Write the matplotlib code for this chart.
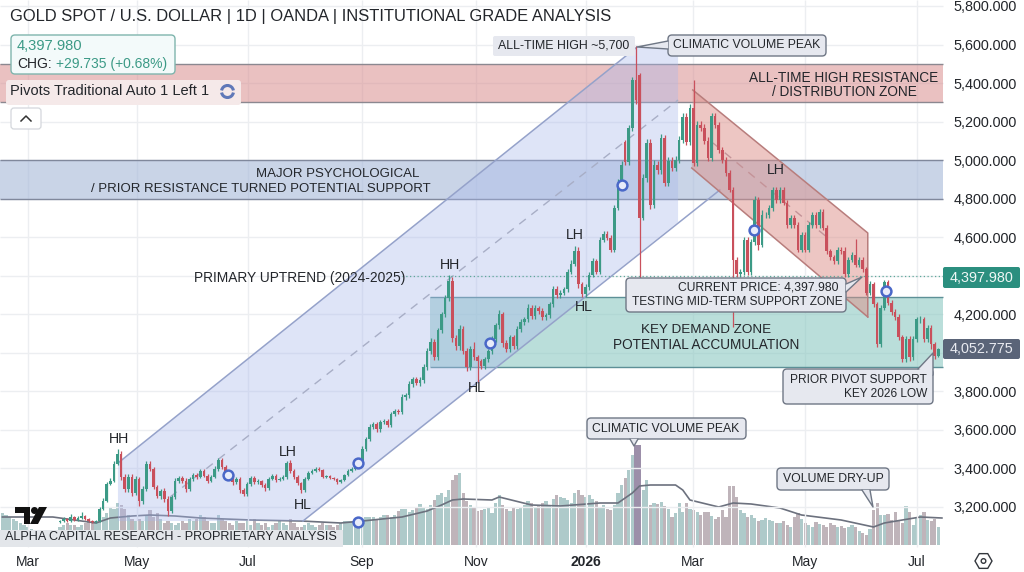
import matplotlib

matplotlib.use("Agg")
import matplotlib.pyplot as plt
import numpy as np
from matplotlib.patches import Arc, Circle, FancyBboxPatch, Polygon, Rectangle, RegularPolygon

plt.rcParams["font.family"] = ["Liberation Sans", "DejaVu Sans"]

# daily closes, first candle sits on bar 16 (price pane starts there)
closes = [
    3127, 3137, 3127, 3148, 3132, 3142, 3153, 3137, 3127, 3122,
    3127, 3189, 3231, 3319, 3334, 3422, 3474, 3355, 3293, 3355,
    3272, 3345, 3231, 3293, 3422, 3396, 3303, 3257, 3282, 3241,
    3179, 3251, 3334, 3350, 3334, 3293, 3345, 3365, 3355, 3386,
    3360, 3334, 3355, 3396, 3443, 3407, 3381, 3355, 3329, 3345,
    3288, 3267, 3319, 3350, 3329, 3334, 3313, 3298, 3345, 3360,
    3339, 3345, 3355, 3427, 3386, 3355, 3324, 3288, 3345, 3376,
    3386, 3396, 3391, 3355, 3360, 3350, 3345, 3329, 3339, 3365,
    3386, 3396, 3422, 3438, 3500, 3552, 3614, 3630, 3604, 3640,
    3645, 3625, 3681, 3697, 3692, 3769, 3780, 3837, 3863, 3842,
    3860, 3925, 4008, 4055, 3977, 4116, 4199, 4287, 4375, 4075,
    4034, 4122, 4008, 3925, 4018, 3977, 3956, 3930, 3966, 4008,
    4070, 4142, 4199, 4049, 4018, 4080, 4034, 4122, 4158, 4173,
    4235, 4189, 4230, 4215, 4184, 4194, 4251, 4329, 4298, 4313,
    4329, 4422, 4463, 4526, 4355, 4303, 4339, 4406, 4474, 4422,
    4588, 4619, 4598, 4536, 4754, 4883, 4976, 4992, 5168, 5417,
    5313, 4702, 4909, 5090, 4769, 4976, 4950, 5116, 4883, 4998,
    4961, 5002, 5106, 5225, 5095, 5272, 4987, 5184, 5168, 5100,
    5013, 5230, 5184, 5054, 5002, 4935, 4847, 4484, 4407, 4422,
    4588, 4422, 4577, 4795, 4562, 4717, 4717, 4753, 4847, 4795,
    4847, 4780, 4665, 4702, 4665, 4536, 4614, 4536, 4665, 4717,
    4665, 4733, 4650, 4526, 4495, 4474, 4536, 4526, 4407, 4484,
    4510, 4458, 4484, 4433, 4313, 4355, 4251, 4044, 4235, 4365,
    4261, 4210, 4184, 4080, 3966, 4070, 3977, 4070, 4173, 4173,
    4070, 4127, 4044, 3985, 4020,
]
open_gaps = {0: 3120, 157: 5095, 161: 5443}

upper_wicks = [
    5, 10, 5, 15, 5, 10, 20, 5, 5, 5,
    5, 10, 15, 10, 15, 15, 25, 15, 15, 15,
    15, 15, 10, 15, 15, 15, 10, 10, 10, 15,
    15, 10, 15, 10, 10, 15, 10, 10, 10, 10,
    10, 10, 10, 15, 10, 10, 10, 5, 15, 10,
    10, 10, 10, 10, 10, 10, 5, 10, 10, 10,
    10, 10, 10, 10, 15, 10, 10, 5, 10, 10,
    10, 10, 10, 5, 5, 5, 5, 5, 5, 5,
    10, 10, 10, 10, 15, 10, 15, 10, 10, 10,
    10, 10, 10, 10, 10, 15, 10, 15, 10, 10,
    15, 15, 15, 20, 15, 15, 15, 15, 30, 20,
    15, 20, 15, 15, 15, 40, 10, 10, 10, 10,
    15, 15, 25, 15, 15, 15, 15, 15, 15, 15,
    20, 15, 20, 15, 15, 15, 15, 20, 20, 15,
    15, 15, 20, 30, 25, 10, 20, 15, 20, 15,
    15, 15, 15, 15, 15, 20, 20, 10, 15, 15,
    173, 10, 20, 20, 20, 25, 20, 20, 15, 20,
    20, 20, 20, 20, 20, 20, 145, 20, 20, 20,
    20, 15, 15, 15, 15, 15, 15, 15, 15, 15,
    15, 15, 15, 20, 15, 25, 15, 15, 15, 15,
    15, 15, 15, 15, 15, 15, 15, 15, 15, 15,
    15, 15, 15, 15, 15, 15, 15, 15, 25, 15,
    15, 80, 15, 15, 10, 20, 15, 15, 15, 15,
    15, 15, 15, 15, 15, 15, 15, 15, 15, 20,
    15, 15, 15, 10, 5,
]
lower_wicks = [
    5, 5, 5, 5, 5, 5, 5, 5, 5, 5,
    5, 5, 5, 5, 5, 5, 5, 15, 15, 15,
    15, 10, 25, 15, 10, 10, 10, 10, 15, 15,
    25, 10, 10, 10, 10, 15, 10, 10, 10, 5,
    5, 10, 5, 5, 10, 10, 10, 10, 15, 10,
    15, 10, 10, 10, 10, 10, 10, 15, 10, 5,
    10, 5, 5, 10, 10, 10, 10, 15, 10, 5,
    5, 5, 5, 5, 5, 5, 5, 10, 5, 5,
    5, 5, 5, 5, 10, 10, 10, 10, 15, 15,
    10, 10, 10, 10, 10, 10, 15, 15, 15, 10,
    15, 15, 15, 15, 15, 15, 15, 15, 20, 20,
    20, 20, 15, 20, 15, 15, 107, 15, 15, 15,
    15, 15, 20, 20, 15, 15, 15, 15, 15, 15,
    15, 15, 15, 15, 15, 15, 15, 15, 15, 15,
    15, 15, 15, 15, 20, 15, 15, 15, 15, 15,
    15, 15, 15, 15, 15, 15, 15, 15, 15, 15,
    20, 420, 15, 20, 25, 20, 20, 20, 15, 15,
    15, 15, 15, 15, 15, 15, 15, 15, 15, 15,
    15, 15, 15, 15, 15, 15, 15, 350, 15, 15,
    20, 20, 20, 15, 30, 15, 15, 15, 15, 15,
    15, 15, 15, 15, 15, 15, 15, 15, 15, 15,
    15, 15, 15, 15, 15, 15, 15, 15, 15, 15,
    15, 15, 15, 15, 15, 15, 15, 15, 15, 15,
    15, 15, 15, 15, 15, 15, 20, 15, 15, 20,
    15, 15, 25, 15, 5,
]

volumes = [
    32, 30, 28, 26, 24, 22, 20, 18, 16, 15,
    14, 14, 15, 14, 13, 12, 18, 20, 22, 20,
    20, 18, 20, 22, 24, 22, 24, 24, 28, 32,
    38, 36, 42, 40, 36, 30, 26, 24, 26, 24,
    30, 35, 28, 32, 26, 22, 24, 22, 20, 22,
    24, 22, 26, 24, 26, 30, 28, 24, 22, 22,
    30, 26, 24, 22, 20, 24, 22, 22, 24, 20,
    26, 22, 20, 22, 18, 20, 22, 24, 22, 20,
    26, 22, 18, 18, 20, 22, 20, 18, 20, 22,
    20, 20, 18, 20, 22, 24, 24, 24, 26, 26,
    25, 28, 28, 28, 26, 28, 30, 30, 28, 30,
    34, 36, 36, 33, 35, 38, 41, 38, 36, 40,
    45, 50, 52, 48, 55, 65, 70, 72, 52, 44,
    40, 38, 34, 35, 36, 37, 32, 42, 50, 40,
    36, 34, 38, 36, 38, 40, 44, 42, 38, 40,
    42, 44, 40, 46, 50, 48, 47, 45, 42, 52,
    55, 50, 48, 50, 46, 44, 38, 40, 36, 35,
    40, 52, 60, 67, 75, 90, 100, 100, 55, 65,
    40, 42, 41, 43, 39, 36, 28, 32, 42, 33,
    42, 36, 35, 33, 30, 33, 33, 29, 26, 28,
    35, 28, 59, 59, 48, 35, 32, 28, 30, 27,
    24, 25, 27, 25, 24, 22, 22, 24, 20, 18,
    28, 32, 26, 22, 20, 18, 23, 21, 20, 18,
    22, 20, 18, 19, 17, 18, 20, 18, 14, 12,
    10, 16, 35, 42, 30, 30, 31, 25, 33, 25,
    22, 39, 33, 20, 28, 30, 33, 25, 24, 26,
    18,
]
peak_volume_bars = [176, 177]

vol_ma_bars = [
    0, 14, 26, 30, 36, 41, 48, 55, 69, 83, 94, 100, 111, 118, 122, 125, 128,
    136, 138, 147, 155, 166, 171, 173, 175, 177, 180, 187, 189, 191, 199, 203,
    208, 216, 222, 233, 242, 245, 255, 261,
]
vol_ma = [
    28, 28, 22, 27, 29, 30, 29, 27, 25, 24, 22, 24, 28, 34, 40, 45, 46,
    45, 48, 40, 39, 42, 42, 47, 52, 59, 60, 60, 55, 45, 38, 42,
    41, 37, 30, 25, 18, 22, 28, 27,
]

price_ticks = [5800, 5600, 5400, 5200, 5000, 4800, 4600, 4400, 4200, 4000, 3800, 3600, 3400, 3200]
hidden_price_ticks = [4400, 4000]
month_bars = [7.1, 37.4, 68.2, 99.9, 131.6, 162.1, 191.8, 223, 254]
month_labels = ["Mar", "May", "Jul", "Sep", "Nov", "2026", "Mar", "May", "Jul"]

resistance_zone = (5300, 5500)
psych_zone = (4800, 5000)
demand_zone = (3925, 4290)
last_price = 4397.98

up_channel_bars = [32.1, 176.3, 187.7, 187.7, 83.5, 32.1]
up_channel_prices = [3428, 5587, 5587, 4679, 3127, 3127]
up_top_bars, up_top_prices = [32.1, 176.3], [3428, 5587]
up_low_bars, up_low_prices = [83.5, 199.3], [3127, 4845]
up_mid_bars, up_mid_prices = [46.6, 187.7], [3252, 5312]

down_channel_bars = [191.8, 240.4, 240.4, 191.5]
down_channel_prices = [5364, 4622, 4186, 4959]
down_mid_bars, down_mid_prices = [197.4, 229], [5089, 4601]

ring_bars = [62.7, 98.8, 98.8, 135.4, 172.1, 208.8, 245.4]
ring_prices = [3366, 3428, 3122, 4051, 4871, 4637, 4321]

swing_bars = [32.4, 79.3, 83.5, 124.3, 131.8, 159.1, 161.6, 214.9]
swing_prices = [3555, 3487, 3212, 4455, 3815, 4610, 4236, 4950]
swing_labels = ["HH", "LH", "HL", "HH", "HL", "LH", "HL", "LH"]

UP = "#3c9a86"
DOWN = "#c9505c"
VOL_UP = "#aecaca"
VOL_DOWN = "#bfb4ba"
TEXT = "#23262b"
BOX = "#e6e8ef"
BOX_EDGE = "#6f7785"
GRID = "#eceef1"
RING = "#4a68c8"


def callout(ui, x0, y0, x1, y1, tail=None):
    ui.add_patch(FancyBboxPatch((x0 + 3, y0 + 3), x1 - x0 - 6, y1 - y0 - 6,
                                boxstyle="round,pad=3,rounding_size=4",
                                fc=BOX, ec=BOX_EDGE, lw=1.0, zorder=5))
    if tail:
        ui.add_patch(Polygon(tail, closed=True, fc=BOX, ec="none", zorder=6))
        xs, ys = zip(*tail)
        ui.plot(xs, ys, color=BOX_EDGE, lw=1.0, zorder=6, solid_capstyle="round")


def label(ui, x, y, s, size=9.8, ha="center", color=TEXT, **kw):
    ui.text(x, y, s, fontsize=size, ha=ha, va="center", color=color, zorder=7, **kw)


def main():
    fig = plt.figure(figsize=(10.24, 5.72), dpi=100, facecolor="white")

    # px to data: 3.6 px per bar, 5.19 price per px
    x_lim = (-0.667, 283.8)
    vol_ax = fig.add_axes([0, 0, 1, 1], zorder=0)
    ax = fig.add_axes([0, 0, 1, 1], zorder=1)
    ui = fig.add_axes([0, 0, 1, 1], zorder=2)
    ax.patch.set_visible(False)
    ui.patch.set_visible(False)

    ax.set_xlim(*x_lim)
    ax.set_ylim(2862.5, 5831)
    vol_ax.set_xlim(*x_lim)
    vol_ax.set_ylim(-27, 545)
    vol_ax.axis("off")
    ui.set_xlim(0, 1024)
    ui.set_ylim(572, 0)
    ui.axis("off")

    for side in ax.spines.values():
        side.set_visible(False)

    axis_end = 261.3
    ax.hlines(price_ticks, x_lim[0], axis_end, color=GRID, lw=1.0, zorder=0)
    ax.vlines(month_bars, 2990, 5831, color=GRID, lw=1.0, zorder=0)

    # volume pane
    closes_arr = np.array(closes, dtype=float)
    opens = np.r_[closes_arr[0], closes_arr[:-1]]
    for i, v in open_gaps.items():
        opens[i] = v
    first_bar = 16
    vol_colors = []
    for b in range(len(volumes)):
        i = b - first_bar
        if b in peak_volume_bars:
            vol_colors.append("#9c8fa9")
        elif i < 0 or i >= len(closes) or closes_arr[i] >= opens[i]:
            vol_colors.append(VOL_UP)
        else:
            vol_colors.append(VOL_DOWN)
    vol_ax.bar(np.arange(len(volumes)), volumes, width=0.88, color=vol_colors, zorder=2)
    vol_ax.plot(vol_ma_bars, vol_ma, color="#6c717e", lw=1.2, zorder=3)

    # zones
    ax.fill_between([x_lim[0], axis_end], *resistance_zone, color="#d98f8f", alpha=0.55, lw=0, zorder=1)
    ax.hlines(resistance_zone, x_lim[0], axis_end, color="#8b8890", lw=1.0, zorder=1)
    ax.fill_between([x_lim[0], axis_end], *psych_zone, color="#a5b8d8", alpha=0.6, lw=0, zorder=1)
    ax.hlines(psych_zone, x_lim[0], axis_end, color="#80889c", lw=1.0, zorder=1)
    ax.fill_between([118.8, axis_end], *demand_zone, color="#8cc9c2", alpha=0.6, lw=0, zorder=1)
    ax.hlines(demand_zone, 118.8, axis_end, color="#5d9097", lw=1.0, zorder=1)

    # channels
    ax.fill(up_channel_bars, up_channel_prices, color="#a9b8ec", alpha=0.38, lw=0, zorder=2)
    ax.plot(up_top_bars, up_top_prices, color="#95a2ca", lw=1.1, zorder=2)
    ax.plot(up_low_bars, up_low_prices, color="#95a2ca", lw=1.1, zorder=2)
    ax.plot(up_mid_bars, up_mid_prices, color="#a8aec6", lw=1.0, ls=(0, (6, 5)), zorder=2)
    ax.fill(down_channel_bars, down_channel_prices, color="#dc8f88", alpha=0.5, lw=0, zorder=2)
    ax.plot(down_channel_bars[:3], down_channel_prices[:3], color="#b87d7c", lw=1.1, zorder=2)
    ax.plot(down_channel_bars[2:], down_channel_prices[2:], color="#b87d7c", lw=1.1, zorder=2)
    ax.plot(down_mid_bars, down_mid_prices, color="#c49398", lw=1.0, ls=(0, (6, 5)), zorder=2)

    ax.hlines(last_price, 111, axis_end, color="#5fa89a", lw=0.9, ls=(0, (1, 2)), zorder=2)

    # candles
    bars = first_bar + np.arange(len(closes))
    body_low = np.minimum(opens, closes_arr)
    body_high = np.maximum(opens, closes_arr)
    colors = [UP if c >= o else DOWN for o, c in zip(opens, closes_arr)]
    highs = body_high + np.array(upper_wicks)
    lows = body_low - np.array(lower_wicks)
    ax.vlines(bars, lows, highs, color=colors, lw=0.9, zorder=3)
    ax.bar(bars, body_high - body_low, bottom=body_low, width=0.72, color=colors, lw=0, zorder=3)

    ax.scatter(ring_bars, ring_prices, s=50, facecolor="#e8ecfa", edgecolor=RING, linewidth=1.8, zorder=4)

    for b, p, s in zip(swing_bars, swing_prices, swing_labels):
        ax.text(b, p, s, fontsize=10.2, ha="center", va="center", color=TEXT, zorder=4)

    # axes labels live inside the full-figure axes
    ax.set_yticks(price_ticks)
    ax.set_yticklabels(["" if p in hidden_price_ticks else f"{p:,.3f}" for p in price_ticks])
    ax.yaxis.tick_right()
    ax.tick_params(axis="y", length=0, pad=-5, labelsize=10.4, labelcolor=TEXT)
    for t in ax.get_yticklabels():
        t.set_ha("right")
    ax.set_xticks(month_bars)
    ax.set_xticklabels(month_labels)
    ax.tick_params(axis="x", length=0, pad=-12.5, labelsize=10.0, labelcolor=TEXT)
    for t in ax.get_xticklabels():
        if t.get_text() == "2026":
            t.set_fontweight("bold")

    # banner and logo
    ui.add_patch(Rectangle((0, 530), 343, 17, fc="#e3e6ea", ec="none", zorder=3))
    label(ui, 5, 537.5, "ALPHA CAPITAL RESEARCH - PROPRIETARY ANALYSIS", size=9.05, ha="left")
    ui.add_patch(Rectangle((15, 507), 15, 6, fc="#111111", ec="none", zorder=4))
    ui.add_patch(Rectangle((24, 507), 6, 17, fc="#111111", ec="none", zorder=4))
    ui.add_patch(Circle((34.5, 510.5), 3.5, fc="#111111", ec="none", zorder=4))
    ui.add_patch(Polygon([(39, 507), (47, 507), (38, 524), (30, 524)], fc="#111111", ec="none", zorder=4))

    # header
    label(ui, 10, 17, "GOLD SPOT / U.S. DOLLAR | 1D | OANDA | INSTITUTIONAL GRADE ANALYSIS", size=11.85, ha="left")
    ui.add_patch(FancyBboxPatch((14, 38), 158, 33, boxstyle="round,pad=3,rounding_size=4",
                                fc="#f3fafa", ec="#7fb5ad", lw=1.0, zorder=5))
    label(ui, 17, 46, "4,397.980", size=10.6, ha="left", color=UP)
    label(ui, 17, 64, "CHG:", size=10, ha="left")
    label(ui, 56, 64, "+29.735 (+0.68%)", size=10, ha="left", color=UP)
    ui.add_patch(FancyBboxPatch((8, 82), 231, 21, boxstyle="round,pad=2,rounding_size=3",
                                fc="#f5e9e9", ec="none", zorder=4))
    label(ui, 10, 91, "Pivots Traditional Auto 1 Left 1", size=10.5, ha="left")
    ui.add_patch(Arc((227.5, 91.5), 12, 12, theta1=10, theta2=170, ec="#5f78b8", lw=2.2, zorder=6))
    ui.add_patch(Arc((227.5, 91.5), 12, 12, theta1=190, theta2=350, ec="#5f78b8", lw=2.2, zorder=6))
    ui.add_patch(FancyBboxPatch((13, 110), 26, 17, boxstyle="round,pad=2,rounding_size=3",
                                fc="white", ec="#d4d7dc", lw=0.9, zorder=4))
    ui.plot([21, 26, 31], [121, 116, 121], color="#333333", lw=1.1, zorder=6)

    # zone captions
    label(ui, 844, 78, "ALL-TIME HIGH RESISTANCE")
    label(ui, 844, 92, "/ DISTRIBUTION ZONE")
    label(ui, 338, 174, "MAJOR PSYCHOLOGICAL", size=9.5)
    label(ui, 261, 189, "/ PRIOR RESISTANCE TURNED POTENTIAL SUPPORT", size=9.5)
    label(ui, 300, 278, "PRIMARY UPTREND (2024-2025)", size=9.9)
    label(ui, 706, 330, "KEY DEMAND ZONE", size=9.7)
    label(ui, 706, 345, "POTENTIAL ACCUMULATION", size=9.8)

    # callouts
    ui.add_patch(FancyBboxPatch((495, 38), 138, 16, boxstyle="round,pad=2,rounding_size=2",
                                fc=BOX, ec="none", zorder=5))
    label(ui, 564, 46, "ALL-TIME HIGH ~5,700", size=8.9)
    callout(ui, 668, 35, 826, 56, tail=[(668, 41), (637, 47), (668, 49)])
    label(ui, 747, 45.5, "CLIMATIC VOLUME PEAK", size=8.85)
    callout(ui, 587, 418, 746, 439, tail=[(630, 439), (634, 446), (638, 439)])
    label(ui, 666, 429, "CLIMATIC VOLUME PEAK", size=8.85)
    callout(ui, 777, 468, 889, 490, tail=[(862, 490), (873, 507), (870, 490)])
    label(ui, 833, 479.5, "VOLUME DRY-UP", size=8.8)
    callout(ui, 626, 278, 846, 312, tail=[(846, 284), (862, 277), (846, 292)])
    label(ui, 838, 288, "CURRENT PRICE: 4,397.980", size=8.7, ha="right")
    label(ui, 843, 302, "TESTING MID-TERM SUPPORT ZONE", size=8.6, ha="right")
    callout(ui, 783, 369, 933, 404, tail=[(918, 369), (933, 353), (933, 375)])
    label(ui, 927, 380, "PRIOR PIVOT SUPPORT", size=8.6, ha="right")
    label(ui, 927, 394, "KEY 2026 LOW", size=8.6, ha="right")

    # price tags
    ui.add_patch(FancyBboxPatch((944, 268), 75, 19, boxstyle="round,pad=1,rounding_size=2",
                                fc="#2b8f7f", ec="none", zorder=5))
    label(ui, 982, 278, "4,397.980", size=10.4, color="#eef7f5")
    ui.add_patch(FancyBboxPatch((944, 340), 75, 18, boxstyle="round,pad=1,rounding_size=2",
                                fc="#5a6478", ec="none", zorder=5))
    label(ui, 982, 349, "4,052.775", size=10.4, color="#e8eaf0")

    ui.add_patch(RegularPolygon((983.5, 561), 6, radius=8.5, orientation=np.pi / 2,
                                fc="white", ec="#33373d", lw=1.0, zorder=5))
    ui.add_patch(Circle((983.5, 561), 2.3, fc="white", ec="#33373d", lw=1.0, zorder=6))

    fig.savefig("out.png", dpi=100)
    plt.close(fig)


if __name__ == "__main__":
    main()
